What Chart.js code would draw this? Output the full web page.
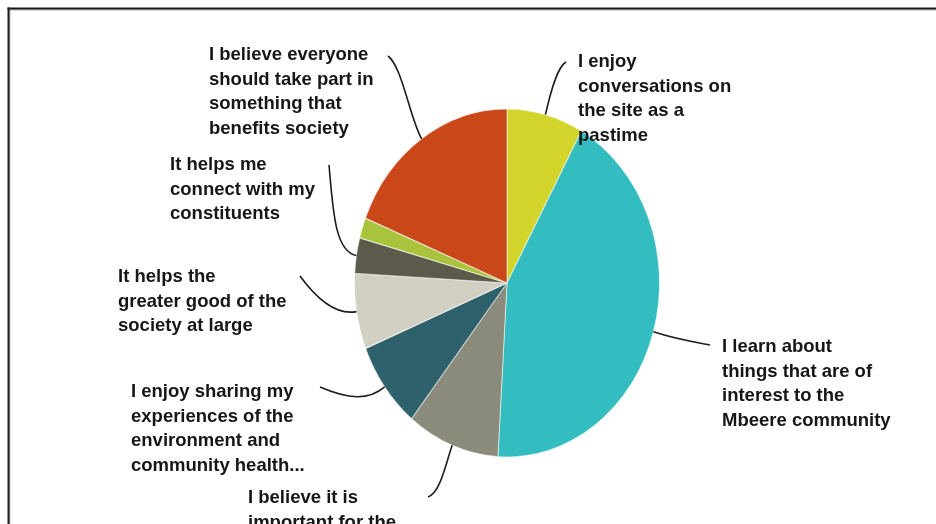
<!DOCTYPE html>
<html>
<head>
<meta charset="utf-8">
<script src="https://cdn.jsdelivr.net/npm/chart.js@4"></script>
<style>
  html, body { margin: 0; padding: 0; background: #ffffff; }
  #reasonsChart { display: block; }
</style>
</head>
<body>
<canvas id="reasonsChart" width="936" height="524"></canvas>
<script>
// reasons for taking part, share of respondents (%)
const categories = [
    ["I enjoy", "conversations on", "the site as a", "pastime"],
    ["I learn about", "things that are of", "interest to the", "Mbeere community"],
    ["I believe it is", "important for the"],
    ["I enjoy sharing my", "experiences of the", "environment and", "community health..."],
    ["It helps the", "greater good of the", "society at large"],
    ["It helps me", "connect with my", "constituents"],
    ["Other reasons"],
    ["I believe everyone", "should take part in", "something that", "benefits society"]
];
const shares = [8.1, 42.8, 9.8, 8.1, 7.0, 3.3, 1.9, 18.9];

const sliceColors = ["#d3d52c", "#34bdc0", "#8b8b7b", "#2e616c", "#d1d0c2", "#5c5a4b", "#a9c33c", "#c94719"];

// the pie is drawn squeezed into an upright ellipse
const stretchY = 1.141;

// where each callout text sits and where its leader line ends (null = no callout)
const calloutLayout = [
    { x: 578, y: 67,  end: [566, 62],  hook: [-9, 5] },
    { x: 722, y: 352, end: [710, 345], hook: [-22, -4] },
    { x: 248, y: 503, end: [428, 497], hook: [12, -4] },
    { x: 131, y: 397, end: [320, 387], hook: [28, 12] },
    { x: 118, y: 282, end: [300, 276], hook: [16, 22] },
    { x: 170, y: 170, end: [329, 165], hook: [4, 45] },
    null,
    { x: 209, y: 60,  end: [388, 56],  hook: [14, 10] }
];
const lineGap = 24.6;

const framePlugin = {
    id: "frame",
    beforeDraw(chart) {
        const ctx = chart.ctx;
        ctx.save();
        ctx.fillStyle = "#ffffff";
        ctx.fillRect(0, 0, chart.width, chart.height);
        ctx.fillStyle = "#bdbdbd";
        ctx.fillRect(9, 9, chart.width, 1.5);
        ctx.fillRect(9, 9, 1.5, chart.height);
        ctx.fillStyle = "#1c1c1c";
        ctx.fillRect(7.5, 7.5, chart.width, 2);
        ctx.fillRect(7.5, 7.5, 2, chart.height);
        ctx.restore();
    }
};

const ellipsePlugin = {
    id: "ellipse",
    beforeDatasetsDraw(chart) {
        const ctx = chart.ctx;
        const arc = chart.getDatasetMeta(0).data[0];
        ctx.save();
        ctx.translate(arc.x, arc.y);
        ctx.scale(1, stretchY);
        ctx.translate(-arc.x, -arc.y);
    },
    afterDatasetsDraw(chart) {
        chart.ctx.restore();
    }
};

const calloutPlugin = {
    id: "callouts",
    afterDraw(chart) {
        const ctx = chart.ctx;
        const arcs = chart.getDatasetMeta(0).data;
        ctx.save();
        ctx.strokeStyle = "#1e1e1e";
        ctx.lineWidth = 1.6;
        ctx.fillStyle = "#161616";
        ctx.font = 'bold 18.5px "Liberation Sans", Arial, sans-serif';
        ctx.textBaseline = "alphabetic";
        arcs.forEach((arc, i) => {
            const spot = calloutLayout[i];
            if (!spot) return;
            const mid = (arc.startAngle + arc.endAngle) / 2;
            const px = arc.x + arc.outerRadius * Math.cos(mid);
            const py = arc.y + arc.outerRadius * Math.sin(mid) * stretchY;
            let dx = Math.cos(mid), dy = Math.sin(mid) * stretchY;
            const len = Math.hypot(dx, dy);
            dx /= len; dy /= len;
            ctx.beginPath();
            ctx.moveTo(px, py);
            ctx.bezierCurveTo(px + dx * 22, py + dy * 22,
                spot.end[0] + spot.hook[0], spot.end[1] + spot.hook[1],
                spot.end[0], spot.end[1]);
            ctx.stroke();
            categories[i].forEach((line, k) => {
                ctx.fillText(line, spot.x, spot.y + k * lineGap);
            });
        });
        ctx.restore();
    }
};

new Chart(document.getElementById("reasonsChart"), {
    type: "pie",
    data: {
        labels: categories,
        datasets: [
            {
                data: shares,
                backgroundColor: sliceColors,
                borderColor: "rgba(255,255,255,0.55)",
                borderWidth: 1
            }
        ]
    },
    options: {
        responsive: false,
        animation: false,
        devicePixelRatio: 1,
        layout: {
            padding: { left: 354, right: 276, top: 130, bottom: 88 }
        },
        plugins: {
            legend: { display: false },
            tooltip: { enabled: false }
        }
    },
    plugins: [framePlugin, ellipsePlugin, calloutPlugin]
});
</script>
</body>
</html>
